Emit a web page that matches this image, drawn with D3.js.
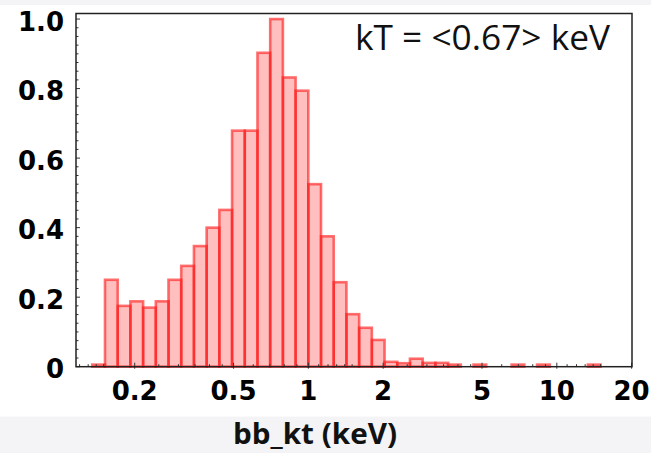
<!DOCTYPE html>
<html>
<head>
<meta charset="utf-8">
<script src="https://cdn.jsdelivr.net/npm/d3@7"></script>
<style>
  body { margin: 0; background: #f4f4f6; }
  svg { display: block; }
</style>
</head>
<body>
<div id="container"></div>
<script>
// histogram of bb_kt, 40 log-spaced bins between binLo and binHi
const binLo = 0.135;
const binHi = 15.0;
const heights = [
  0.006, 0.25, 0.175, 0.188, 0.17, 0.188, 0.25, 0.29, 0.347, 0.40,
  0.451, 0.679, 0.679, 0.903, 1.0, 0.832, 0.794, 0.525, 0.375, 0.243,
  0.151, 0.112, 0.077, 0.014, 0.010, 0.023, 0.011, 0.011, 0.006, 0,
  0.006, 0, 0, 0.006, 0, 0.006, 0, 0, 0, 0.006
];
const xTicks = [0.2, 0.5, 1, 2, 5, 10, 20];
const xMinor = [0.12, 0.13, 0.14, 0.15, 0.25, 0.3, 0.35, 0.4, 0.45, 0.6, 0.7, 0.8, 0.9,
  1.1, 1.2, 1.3, 1.4, 1.5, 2.5, 3, 3.5, 4, 4.5, 6, 7, 8, 9, 11, 12, 13, 14, 15];
const yTicks = [0, 0.2, 0.4, 0.6, 0.8, 1.0];
const yTickLabels = ["0", "0.2", "0.4", "0.6", "0.8", "1.0"];
const annotation = "kT = <0.67> keV";
const xTitle = "bb_kt (keV)";

function drawSvg() {
  const w = 651;
  const h = 453;
  const left = 76, right = 632, top = 13.5, bottom = 366.7;

  const n = heights.length;
  const step = (Math.log10(binHi) - Math.log10(binLo)) / n;
  const bins = heights.map((v, i) => ({
    x0: Math.pow(10, Math.log10(binLo) + i * step),
    x1: Math.pow(10, Math.log10(binLo) + (i + 1) * step),
    v: v
  }));

  const xScale = d3.scaleLog()
    .domain([0.1161, 20.07])
    .range([left, right]);

  const yScale = d3.scaleLinear()
    .domain([0, 1.016])
    .range([bottom, top]);

  const svg = d3.select("div#container")
    .append("svg")
    .attr("width", w)
    .attr("height", h);

  // white figure area, slide background below
  svg.append("rect")
    .attr("x", 0).attr("y", 5)
    .attr("width", w).attr("height", 411.5)
    .attr("fill", "#ffffff");

  svg.selectAll("rect.bar")
    .data(bins.filter(d => d.v > 0))
    .enter()
    .append("rect")
    .classed("bar", true)
    .attr("x", d => xScale(d.x0))
    .attr("y", d => yScale(d.v))
    .attr("width", d => xScale(d.x1) - xScale(d.x0))
    .attr("height", d => bottom - yScale(d.v))
    .attr("fill", "#ff0000")
    .attr("fill-opacity", 0.25)
    .attr("stroke", "#ff1a1a")
    .attr("stroke-opacity", 0.62)
    .attr("stroke-width", 2.6);

  // y axis ticks (inside)
  const yMinor = d3.range(0, 1.001, 0.025);
  svg.append("g")
    .selectAll("line")
    .data(yMinor)
    .enter()
    .append("line")
    .attr("x1", left)
    .attr("x2", (d, i) => left + (i % 8 === 0 ? 4 : 2.5))
    .attr("y1", d => yScale(d))
    .attr("y2", d => yScale(d))
    .attr("stroke", "#333")
    .attr("stroke-width", 1);

  svg.append("g")
    .selectAll("text")
    .data(yTicks)
    .enter()
    .append("text")
    .attr("x", 64)
    .attr("y", d => yScale(d) + 11.5)
    .attr("text-anchor", "end")
    .attr("font-family", "DejaVu Sans")
    .attr("font-weight", "bold")
    .attr("font-size", 26)
    .attr("fill", "#000")
    .text((d, i) => yTickLabels[i]);

  // x axis ticks (inside)
  svg.append("g")
    .selectAll("line")
    .data(xMinor)
    .enter()
    .append("line")
    .attr("x1", d => xScale(d))
    .attr("x2", d => xScale(d))
    .attr("y1", bottom)
    .attr("y2", bottom - 2.5)
    .attr("stroke", "#333")
    .attr("stroke-width", 1);

  svg.append("g")
    .selectAll("line")
    .data(xTicks)
    .enter()
    .append("line")
    .attr("x1", d => xScale(d))
    .attr("x2", d => xScale(d))
    .attr("y1", bottom + 2)
    .attr("y2", bottom - 4)
    .attr("stroke", "#333")
    .attr("stroke-width", 1);

  svg.append("g")
    .selectAll("text")
    .data(xTicks)
    .enter()
    .append("text")
    .attr("x", d => xScale(d))
    .attr("y", 400)
    .attr("text-anchor", "middle")
    .attr("font-family", "DejaVu Sans")
    .attr("font-weight", "bold")
    .attr("font-size", 26)
    .attr("fill", "#000")
    .text(d => d3.format("~g")(d));

  // frame
  svg.append("rect")
    .attr("x", left)
    .attr("y", top)
    .attr("width", right - left)
    .attr("height", bottom - top)
    .attr("fill", "none")
    .attr("stroke", "#222")
    .attr("stroke-width", 1.5);

  svg.append("text")
    .attr("x", 355)
    .attr("y", 50)
    .attr("font-family", "Open Sans")
    .attr("font-size", 34)
    .attr("textLength", 255)
    .attr("lengthAdjust", "spacingAndGlyphs")
    .attr("fill", "#111")
    .text(annotation);

  svg.append("text")
    .attr("x", 233)
    .attr("y", 444)
    .attr("font-family", "Open Sans")
    .attr("font-weight", "bold")
    .attr("font-size", 29)
    .attr("textLength", 164)
    .attr("lengthAdjust", "spacingAndGlyphs")
    .attr("fill", "#111")
    .text(xTitle);
}

drawSvg();
</script>
</body>
</html>
